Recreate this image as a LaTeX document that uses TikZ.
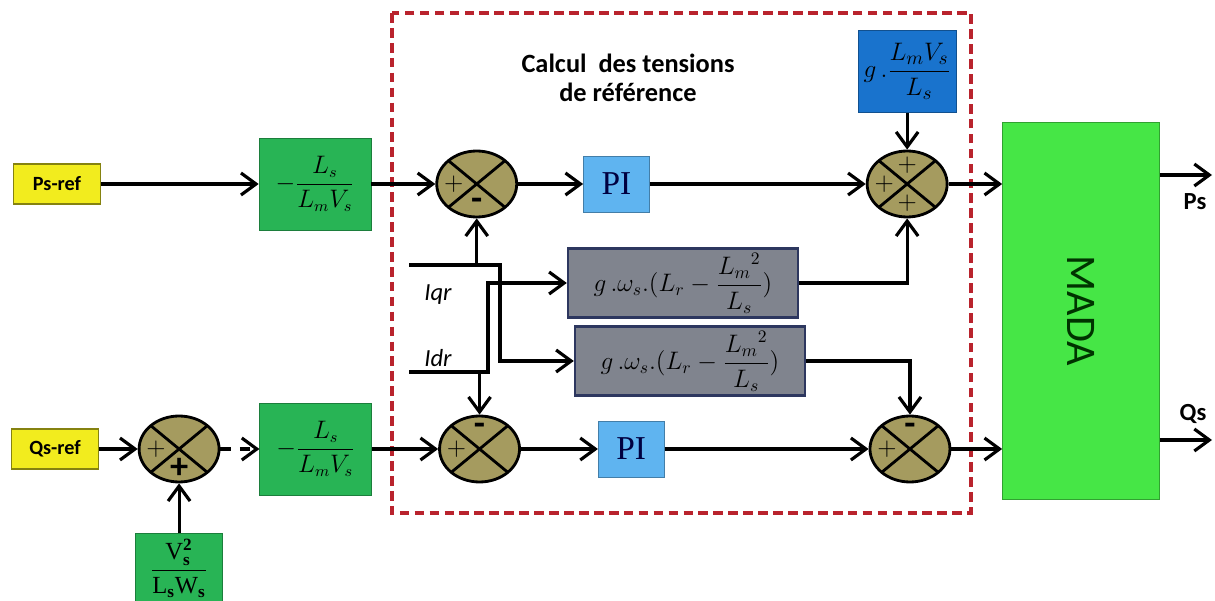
\documentclass[tikz,border=0pt]{standalone}
\usepackage{amsmath}
\usepackage{fontspec}
\setmainfont{Liberation Serif}
\setsansfont{Carlito}
\usepackage{tikz}
\usetikzlibrary{arrows.meta, positioning, shapes.geometric}

\definecolor{refyellow}{RGB}{242,236,30}
\definecolor{gaingreen}{RGB}{40,180,85}
\definecolor{madagreen}{RGB}{70,230,70}
\definecolor{gainblue}{RGB}{25,115,205}
\definecolor{piblue}{RGB}{95,180,240}
\definecolor{boxgray}{RGB}{128,132,142}
\definecolor{navyedge}{RGB}{45,55,95}
\definecolor{sumolive}{RGB}{165,155,95}
\definecolor{dashred}{RGB}{185,35,45}

\begin{document}
\begin{tikzpicture}[
  x=0.02cm, y=-0.02cm,
  box/.style={rectangle, draw, inner sep=1pt, align=center},
  refbox/.style={box, fill=refyellow, draw=refyellow!55!black, line width=0.8pt, minimum width=1.74cm,
                 minimum height=0.8cm, font=\sffamily\bfseries\fontsize{11.5}{13}\selectfont},
  gainbox/.style={box, fill=gaingreen, draw=gaingreen!70!black, minimum width=2.24cm,
                  minimum height=1.84cm, font=\fontsize{13.5}{15}\selectfont},
  pibox/.style={box, fill=piblue, draw=piblue!70!black, minimum width=1.32cm,
                minimum height=1.12cm, text=blue!25!black, font=\fontsize{19}{21}\selectfont},
  graybox/.style={box, fill=boxgray, draw=navyedge, line width=1.4pt, minimum width=4.6cm,
                  minimum height=1.38cm, font=\fontsize{14}{16}\selectfont},
  sumnode/.style={ellipse, draw, line width=1.6pt, fill=sumolive, minimum width=1.6cm,
                  minimum height=1.32cm, inner sep=0pt,
                  path picture={\draw[line width=1.6pt]
                    (path picture bounding box.north west) -- (path picture bounding box.south east)
                    (path picture bounding box.north east) -- (path picture bounding box.south west);}},
  sgn/.style={inner sep=0pt, font=\Large},
  bsgn/.style={inner sep=0pt, font=\sffamily\bfseries\huge},
  lbl/.style={inner sep=0pt, font=\sffamily\bfseries\fontsize{14}{16}\selectfont},
  arrow/.style={-{Straight Barb[length=3mm, width=4.4mm]}, line width=1.8pt},
]
  \useasboundingbox (0,0) rectangle (1215,601);

  % calcul des tensions de reference
  \draw[dashred, line width=2.3pt, dash pattern=on 5.5pt off 3pt] (392,13) rectangle (971,513);
  \node[font=\sffamily\bfseries\fontsize{15}{16.5}\selectfont, align=center] (title) at (628,78)
    {Calcul~~des tensions\\de référence};

  % P_s chain
  \node[refbox] (psref) at (57,184) {Ps-ref};
  \node[gainbox, right=3.15cm of psref] (gainp) {$-\dfrac{L_s}{L_mV_s}$};
  \node[sumnode, right=1.28cm of gainp] (sump) {};
  \node[pibox, right=1.3cm of sump] (pip) {PI};
  \node[sumnode, right=4.32cm of pip] (sumpo) {};
  \node[box, fill=gainblue, draw=gainblue!70!black, minimum width=1.96cm, minimum height=1.64cm,
        font=\fontsize{15.5}{17}\selectfont, above=0.74cm of sumpo] (gv) {$g\,.\dfrac{L_mV_s}{L_s}$};

  % Q_s chain
  \node[refbox] (qsref) at (55,449) {Qs-ref};
  \node[sumnode, right=0.77cm of qsref] (sumq0) {};
  \node[gainbox, right=0.78cm of sumq0] (gainq) {$-\dfrac{L_s}{L_mV_s}$};
  \node[sumnode, right=1.32cm of gainq] (sumq) {};
  \node[pibox, right=1.54cm of sumq] (piq) {PI};
  \node[sumnode, right=4.08cm of piq] (sumqo) {};
  \node[box, fill=gaingreen, draw=gaingreen!70!black, minimum width=1.74cm, minimum height=1.38cm,
        font=\fontsize{14}{16}\selectfont, below=1.0cm of sumq0] (vsq)
        {$\dfrac{\mathrm{V}^{\mathbf{2}}_{\mathbf{s}}}{\mathrm{L}_{\mathbf{s}}\mathrm{W}_{\mathbf{s}}}$};

  % couplage
  \node[graybox] (cplq) at (683,283) {$g\,.\omega_s.(L_r-\dfrac{{L_m}^2}{L_s})$};
  \node[graybox] (cpld) at (690,361) {$g\,.\omega_s.(L_r-\dfrac{{L_m}^2}{L_s})$};

  % machine
  \node[box, fill=madagreen, draw=madagreen!70!black, minimum width=3.14cm, minimum height=7.54cm]
    (mada) at (1081,311) {};
  \node[rotate=-90, font=\sffamily\fontsize{24}{26}\selectfont, text=black!80!green] (madatxt)
    at (mada.center) {MADA};

  % signes
  \node[sgn] (s1) at ([xshift=-0.46cm]sump.center) {$+$};
  \node[bsgn] (s2) at ([yshift=-0.4cm]sump.center) {-};
  \node[sgn] (s3) at ([xshift=-0.46cm]sumq.center) {$+$};
  \node[bsgn] (s4) at ([yshift=0.4cm]sumq.center) {-};
  \node[sgn] (s5) at ([xshift=-0.46cm]sumq0.center) {$+$};
  \node[bsgn] (s6) at ([yshift=-0.38cm]sumq0.center) {+};
  \node[sgn] (s7) at ([xshift=-0.46cm]sumpo.center) {$+$};
  \node[sgn] (s8) at ([yshift=0.38cm]sumpo.center) {$+$};
  \node[sgn] (s9) at ([yshift=-0.38cm]sumpo.center) {$+$};
  \node[sgn] (s10) at ([xshift=-0.46cm]sumqo.center) {$+$};
  \node[bsgn] (s11) at ([yshift=0.4cm]sumqo.center) {-};

  % courants rotoriques
  \coordinate (iqr) at (409,265);
  \coordinate (iqrk) at (500,265);
  \coordinate (idr) at (409,372);
  \coordinate (idrk) at (488,372);
  \node[font=\sffamily\itshape\fontsize{14}{16}\selectfont] (iqrl) at (438,295) {Iqr};
  \node[font=\sffamily\itshape\fontsize{14}{16}\selectfont] (idrl) at (438,358) {Idr};

  \draw[arrow] (psref) -- (gainp);
  \draw[arrow] (gainp) -- (sump);
  \draw[arrow] (sump) -- (pip);
  \draw[arrow] (pip) -- (sumpo);
  \draw[arrow] (gv) -- (sumpo);
  \draw[arrow] (sumpo.east) -- (sumpo.east -| mada.west);

  \draw[arrow] (qsref) -- (sumq0);
  \draw[arrow, dash pattern=on 6pt off 5pt] (sumq0) -- (gainq);
  \draw[arrow] (vsq) -- (sumq0);
  \draw[arrow] (gainq) -- (sumq);
  \draw[arrow] (sumq) -- (piq);
  \draw[arrow] (piq) -- (sumqo);
  \draw[arrow] (sumqo.east) -- (sumqo.east -| mada.west);

  \draw[arrow] (iqr) -- (iqrk) |- (cpld.west);
  \draw[arrow] (idr) -- (idrk) |- (cplq.west);
  \draw[arrow] (iqr -| sump) -- (sump.south);
  \draw[arrow] (idr -| sumq) -- (sumq.north);
  \draw[arrow] (cplq.east) -| (sumpo.south);
  \draw[arrow] (cpld.east) -| (sumqo.north);

  % sorties
  \coordinate (ps) at (1212,175);
  \coordinate (qs) at (1212,440);
  \draw[arrow] (ps -| mada.east) -- (ps);
  \draw[arrow] (qs -| mada.east) -- (qs);
  \node[lbl] (psl) at (1195,202) {Ps};
  \node[lbl] (qsl) at (1193,414) {Qs};
\end{tikzpicture}
\end{document}
